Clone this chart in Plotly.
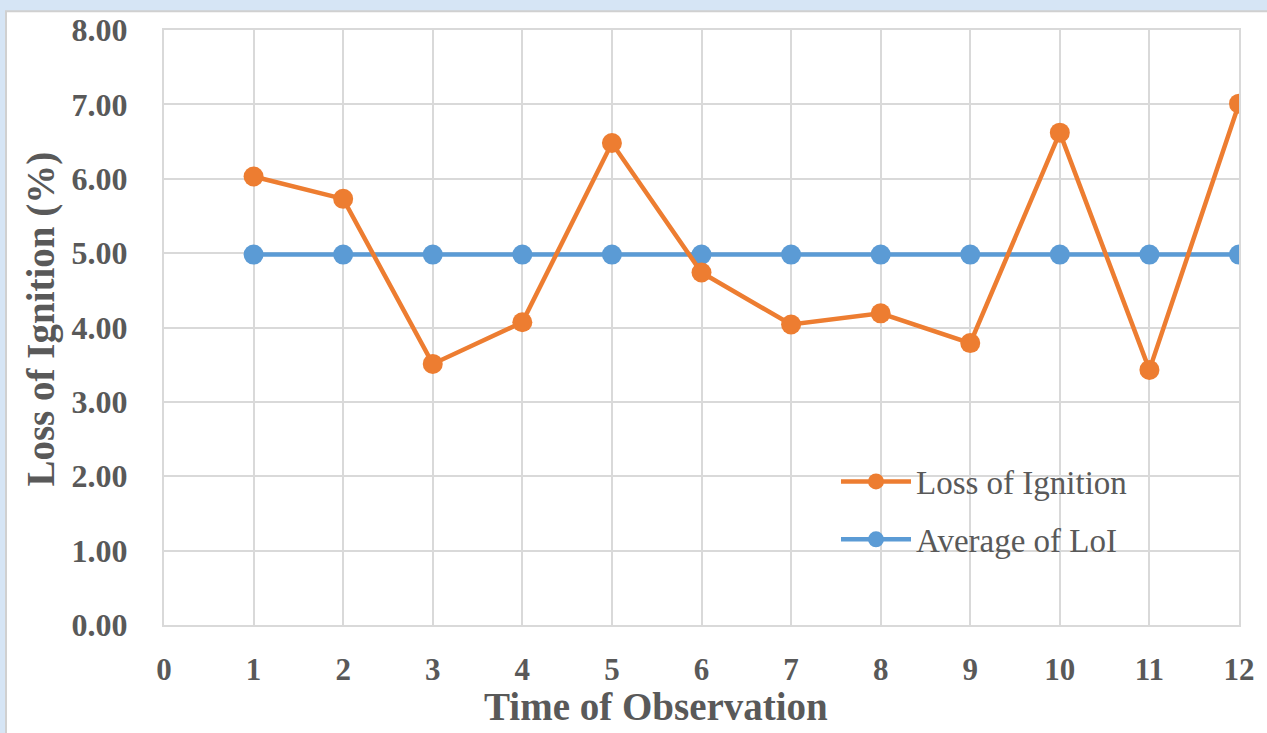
import plotly.graph_objects as go

observations = [1, 2, 3, 4, 5, 6, 7, 8, 9, 10, 11, 12]
loss_of_ignition = [6.03, 5.73, 3.51, 4.07, 6.48, 4.74, 4.04, 4.19, 3.79, 6.62, 3.43, 7.01]
average_loi = [4.98] * 12
x_ticks = list(range(0, 13))
y_ticks = [0, 1, 2, 3, 4, 5, 6, 7, 8]
y_tick_labels = [f"{v:.2f}" for v in y_ticks]
x_title = "Time of Observation"
y_title = "Loss of Ignition (%)"

ORANGE = "#ED7D31"
BLUE = "#5B9BD5"
TEXT = "#595959"
GRID = "#d9d9d9"
FONT = "Liberation Serif, Times New Roman, serif"

fig = go.Figure()
fig.add_trace(go.Scatter(
    x=observations, y=average_loi, mode="lines+markers", name="Average of LoI",
    line=dict(color=BLUE, width=4.5), marker=dict(color=BLUE, size=20),
    legendgroup="b", legendrank=2,
))
fig.add_trace(go.Scatter(
    x=observations, y=loss_of_ignition, mode="lines+markers", name="Loss of Ignition",
    line=dict(color=ORANGE, width=4.5), marker=dict(color=ORANGE, size=20),
    legendgroup="a", legendrank=1,
))

W, H = 1267, 733
L, R, T, B = 164, 28, 25, 108
pw, ph = W - L - R, H - T - B

def px(xp):
    return (xp - L) / pw

def py(yp):
    return (H - B - yp) / ph

fig.update_layout(
    width=W, height=H,
    margin=dict(l=L, r=R, t=T, b=B, pad=0),
    paper_bgcolor="#d6e5f5",
    plot_bgcolor="white",
    font=dict(family=FONT, color=TEXT),
    showlegend=True,
    legend=dict(
        x=px(836), y=py(452), xanchor="left", yanchor="top",
        bgcolor="rgba(0,0,0,0)", borderwidth=0,
        font=dict(family=FONT, size=33, color=TEXT),
        itemwidth=70, traceorder="grouped", tracegroupgap=12,
    ),
    xaxis=dict(
        range=[0, 12], tickvals=x_ticks, ticktext=[str(v) for v in x_ticks],
        showgrid=True, gridcolor=GRID, gridwidth=2, zeroline=False,
        showline=True, linecolor=GRID, linewidth=2, mirror=True,
        ticks="", ticklabelstandoff=16,
        tickfont=dict(family=FONT, size=31, color=TEXT, weight="bold"),
    ),
    yaxis=dict(
        range=[0, 8], tickvals=y_ticks, ticktext=y_tick_labels,
        showgrid=True, gridcolor=GRID, gridwidth=2, zeroline=False,
        showline=True, linecolor=GRID, linewidth=2, mirror=True,
        ticks="", ticklabelstandoff=28,
        tickfont=dict(family=FONT, size=32, color=TEXT, weight="bold"),
    ),
    annotations=[
        dict(text=x_title, xref="paper", yref="paper", x=px(656), y=py(707),
             xanchor="center", yanchor="middle", showarrow=False,
             font=dict(family=FONT, size=39, color=TEXT, weight="bold")),
        dict(text=y_title, xref="paper", yref="paper", x=px(41), y=py(317),
             xanchor="center", yanchor="middle", showarrow=False, textangle=-90,
             font=dict(family=FONT, size=39, color=TEXT, weight="bold")),
    ],
    shapes=[dict(
        type="rect", xref="paper", yref="paper", layer="below",
        x0=px(6), x1=px(W + 20), y0=py(H + 20), y1=py(6),
        fillcolor="white", line=dict(color="#d0d0d0", width=2),
    )],
)

fig.write_html("out.html")
